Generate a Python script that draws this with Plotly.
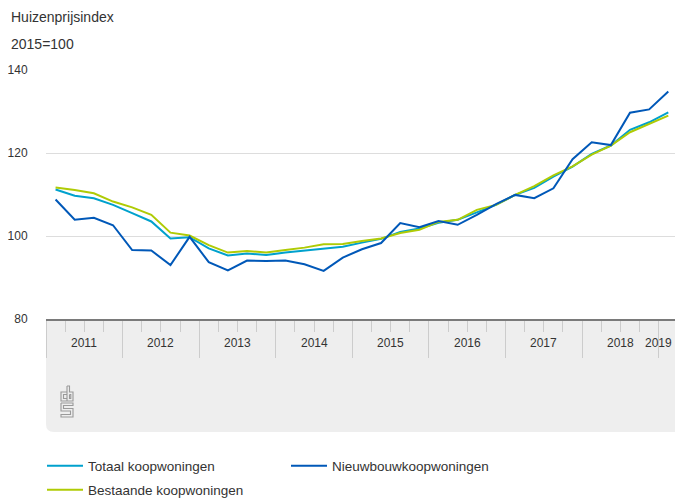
import plotly.graph_objects as go

# ---------------- data ----------------
years = [2011, 2012, 2013, 2014, 2015, 2016, 2017, 2018, 2019]
quarters = [f"{y} {q}e kwartaal" for y in years for q in (1, 2, 3, 4)][:33]

totaal = [111.2, 109.7, 109.1, 107.5, 105.5, 103.5, 99.4, 99.7,
          97.0, 95.3, 95.8, 95.4, 96.0, 96.5, 97.0, 97.4,
          98.4, 99.3, 101.0, 101.8, 103.2, 103.9, 105.7, 107.5,
          109.9, 111.6, 114.3, 116.7, 119.8, 121.8, 125.6, 127.4,
          129.8]
bestaand = [111.7, 111.1, 110.3, 108.3, 106.9, 105.1, 100.8, 100.1,
            97.8, 96.0, 96.4, 96.0, 96.6, 97.2, 98.0, 98.1,
            98.8, 99.4, 100.7, 101.5, 103.4, 103.9, 106.3, 107.5,
            109.9, 112.0, 114.6, 116.8, 119.6, 121.8, 125.0, 127.0,
            129.0]
nieuwbouw = [108.8, 103.9, 104.4, 102.6, 96.6, 96.5, 93.0, 99.8,
             93.7, 91.7, 94.1, 94.0, 94.1, 93.2, 91.6, 94.8,
             96.8, 98.3, 103.1, 102.1, 103.6, 102.7, 105.1, 107.7,
             109.9, 109.1, 111.5, 118.5, 122.6, 121.9, 129.7, 130.5,
             134.8]

series_names = ["Totaal koopwoningen", "Bestaande koopwoningen", "Nieuwbouwkoopwoningen"]
series_colors = ["#00a1cd", "#afcb05", "#0058b8"]
y_ticks = [80, 100, 120, 140]
title_text = "Huizenprijsindex"
unit_text = "2015=100"

# ---------------- layout constants ----------------
W, H = 675, 498
ML, MT = 46, 70
PLOT_BOTTOM = 319
MB = H - PLOT_BOTTOM
PW = W - ML
PH = PLOT_BOTTOM - MT
XR = [-0.5, 32.35]


def px2paper(px, py):
    return (px - ML) / PW, (PLOT_BOTTOM - py) / PH


xpos = list(range(len(quarters)))

fig = go.Figure()
ranks = {"Totaal koopwoningen": 1, "Nieuwbouwkoopwoningen": 2, "Bestaande koopwoningen": 3}
for name, vals, col in zip(series_names, [totaal, bestaand, nieuwbouw], series_colors):
    fig.add_trace(go.Scatter(
        x=xpos, y=vals, mode="lines", name=name,
        line=dict(color=col, width=2),
        customdata=quarters,
        hovertemplate="%{customdata}: %{y}<extra>" + name + "</extra>",
        legend="legend2" if name == "Bestaande koopwoningen" else "legend",
        legendrank=ranks[name],
    ))

shapes = []
# grey band below the axis
_, byb = px2paper(0, 432)
rx, ry = 8 / PW, 8 / PH
shapes.append(dict(
    type="path", xref="paper", yref="paper", layer="below",
    path=f"M0,0 L1.05,0 L1.05,{byb} L{rx},{byb} Q0,{byb} 0,{byb + ry} Z",
    fillcolor="#eeeeee", line=dict(width=0)))


# CBS logo (outline drawing)
def logo_path(points):
    p = []
    for i, (a, b) in enumerate(points):
        xx, yy = px2paper(a, b)
        p.append(("M" if i == 0 else "L") + f"{xx:.5f},{yy:.5f}")
    return " ".join(p)


logo_lines = [
    [(67, 392), (61, 392), (61, 401), (67, 401)],
    [(67, 394.5), (63.5, 394.5), (63.5, 398.5), (67, 398.5)],
    [(67, 386), (69.5, 386), (69.5, 392), (73, 392), (73, 401), (67, 401)],
    [(67, 386), (67, 401)],
    [(69.5, 394.5), (70.8, 394.5), (70.8, 398.5), (69.5, 398.5), (69.5, 394.5)],
    [(61, 403), (73, 403), (73, 405.5), (63.5, 405.5), (63.5, 408.5), (73, 408.5),
     (73, 417), (61, 417), (61, 414.5), (70.5, 414.5), (70.5, 411), (61, 411), (61, 403)],
]
for pts in logo_lines:
    shapes.append(dict(type="path", xref="paper", yref="paper",
                       path=logo_path(pts), line=dict(color="#9a9a9a", width=1.1)))

annotations = []
for txt, py in [(title_text, 17), (unit_text, 44)]:
    annotations.append(dict(text=txt, xref="paper", yref="paper",
                            x=(9 - ML) / PW, y=(PLOT_BOTTOM - py) / PH,
                            xanchor="left", yanchor="middle", showarrow=False,
                            font=dict(size=14, color="#333333")))

# year labels, centred in each year; the last (partial) one kept inside the page
for k, yr in enumerate(years):
    start = -0.5 + 4 * k
    if k < len(years) - 1:
        annotations.append(dict(text=str(yr), xref="x", yref="paper",
                                x=start + 2, y=(PLOT_BOTTOM - 342.5) / PH,
                                xanchor="center", yanchor="middle", showarrow=False,
                                font=dict(size=12, color="#333333")))
    else:
        annotations.append(dict(text=str(yr), xref="paper", yref="paper",
                                x=(674 - ML) / PW, y=(PLOT_BOTTOM - 342.5) / PH,
                                xanchor="right", yanchor="middle", showarrow=False,
                                font=dict(size=12, color="#333333")))

year_bounds = [-0.5 + 4 * k for k in range(len(years))]
quarter_bounds = [-0.5 + k for k in range(len(quarters) + 1) if k % 4 != 0]

fig.update_layout(
    width=W, height=H,
    margin=dict(l=ML, r=0, t=MT, b=MB, pad=0, autoexpand=False),
    paper_bgcolor="white", plot_bgcolor="white",
    font=dict(family="Liberation Sans, Arial, sans-serif", color="#333333"),
    showlegend=True,
    legend=dict(orientation="h", x=(42 - ML) / PW, y=(PLOT_BOTTOM - 466) / PH,
                xanchor="left", yanchor="middle", entrywidth=193, itemwidth=36,
                font=dict(size=13.5, color="#333333"), bgcolor="rgba(0,0,0,0)"),
    legend2=dict(orientation="h", x=(42 - ML) / PW, y=(PLOT_BOTTOM - 490) / PH,
                 xanchor="left", yanchor="middle", itemwidth=36,
                 font=dict(size=13.5, color="#333333"), bgcolor="rgba(0,0,0,0)"),
    shapes=shapes,
    annotations=annotations,
    xaxis=dict(range=XR, showgrid=False, zeroline=False,
               showline=True, linecolor="#7a7a7a", linewidth=2,
               tickmode="array", tickvals=year_bounds, showticklabels=False,
               ticks="outside", ticklen=37, tickcolor="#cccccc", tickwidth=1,
               minor=dict(tickmode="array", tickvals=quarter_bounds, ticks="outside",
                          ticklen=11, tickcolor="#cccccc", tickwidth=1, showgrid=False),
               fixedrange=True),
    yaxis=dict(range=[80, 140], tickmode="array", tickvals=y_ticks,
               showgrid=True, gridcolor="#dddddd", gridwidth=1, zeroline=False,
               showline=False, ticks="outside", ticklen=15, tickcolor="rgba(0,0,0,0)",
               tickfont=dict(size=12, color="#333333"), fixedrange=True),
)

fig.write_html("out.html", config={"displayModeBar": False},
               post_script="document.body.style.margin='0px';")
